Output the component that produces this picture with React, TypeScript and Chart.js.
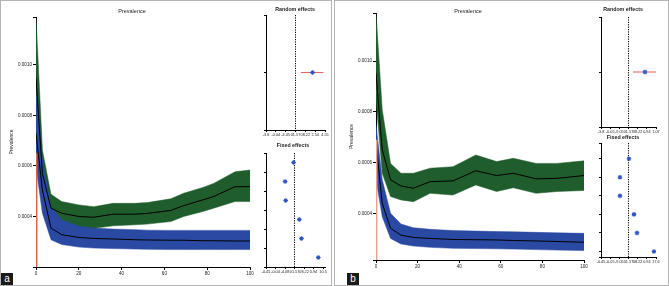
import React, { useEffect, useRef } from 'react';
import { Chart, registerables } from 'chart.js';

Chart.register(...registerables);

const FONT = '"Liberation Sans", Arial, sans-serif';
const GREEN = '#1f5d2c';
const BLUE = '#2a49a3';
const DOT = '#2f55c8';

// ---------------- Panel a : prevalence bands ----------------
const xA = [0, 3, 7, 12, 20, 27, 36, 46, 52, 63, 69, 78, 83, 93, 100];
const greenUpperA = [0.00119, 0.000662, 0.000488, 0.000459, 0.000446, 0.000439, 0.000452, 0.000452, 0.000455, 0.00047, 0.000492, 0.000515, 0.000531, 0.000577, 0.000584];
const greenMeanA = [0.00095, 0.00057, 0.000433, 0.000413, 0.0004, 0.000397, 0.000409, 0.000409, 0.000412, 0.000424, 0.000443, 0.000466, 0.000479, 0.000518, 0.000518];
const greenLowerA = [0.0008, 0.00052, 0.0004, 0.000361, 0.00035, 0.000353, 0.000363, 0.000367, 0.00037, 0.00038, 0.0004, 0.00042, 0.000433, 0.000459, 0.000459];
const blueUpperA = [0.00091, 0.000623, 0.000439, 0.000387, 0.000361, 0.000354, 0.00035, 0.000348, 0.000346, 0.000345, 0.000345, 0.000345, 0.000345, 0.000345, 0.000345];
const blueMeanA = [0.00073, 0.000505, 0.000354, 0.000328, 0.000317, 0.000313, 0.000311, 0.000308, 0.000307, 0.000306, 0.000306, 0.000304, 0.000304, 0.000303, 0.000303];
const blueLowerA = [0.000597, 0.000413, 0.000308, 0.000289, 0.000279, 0.000275, 0.000273, 0.000271, 0.00027, 0.000269, 0.000269, 0.000269, 0.000269, 0.000269, 0.000269];
const redXA = [0.3, 0.3];
const redYA = [0.00065, 0.0002];

// ---------------- Panel b : prevalence bands ----------------
const xB = [0, 3, 7, 12, 18, 26, 37, 48, 58, 66, 77, 87, 100];
const greenUpperB = [0.00119, 0.000808, 0.000597, 0.000558, 0.000558, 0.000578, 0.000584, 0.00063, 0.000604, 0.000617, 0.000597, 0.000597, 0.000607];
const greenMeanB = [0.000953, 0.00065, 0.000532, 0.000508, 0.000499, 0.000525, 0.000528, 0.000568, 0.000549, 0.000558, 0.000536, 0.000538, 0.000549];
const greenLowerB = [0.00085, 0.000558, 0.000466, 0.000453, 0.000446, 0.000479, 0.000472, 0.000512, 0.000486, 0.000501, 0.000479, 0.000486, 0.00049];
const blueUpperB = [0.00075, 0.000532, 0.0004, 0.000358, 0.000343, 0.000337, 0.000332, 0.00033, 0.000328, 0.000327, 0.000325, 0.000323, 0.000321];
const blueMeanB = [0.000676, 0.000439, 0.000341, 0.000314, 0.000305, 0.000301, 0.000297, 0.000296, 0.000295, 0.000293, 0.000291, 0.000289, 0.000286];
const blueLowerB = [0.000532, 0.000387, 0.000301, 0.000279, 0.000271, 0.000266, 0.000262, 0.000261, 0.00026, 0.000259, 0.000257, 0.000255, 0.000253];
const redXB = [0.3, 0.3];
const redYB = [0.00069, 0.000216];

// ---------------- Forest plots ----------------
const forestTicks = [-3, -2, -1, 0, 1, 2, 3];
const randomTickLabelsA = ['-3.8', '-0.04', '-4.45', '01.57', '08.22', '2.54', '4.55'];
const fixedTickLabelsA = ['-0.45', '-0.04', '-4.08', '01.57', '08.22', '0.94', '10.5'];
const randomTickLabelsB = ['-3.8', '-0.05', '-9.05', '01.57', '08.22', '0.94', '1.07'];
const fixedTickLabelsB = ['-0.45', '-0.05', '-9.05', '01.57', '08.22', '0.94', '17.6'];

const randomEstA = [1.73];
const randomLowA = [0.56];
const randomHighA = [2.85];
const fixedRows = [1, 2, 3, 4, 5, 6];
const fixedEstA = [-0.1, -0.99, -0.93, 0.5, 0.73, 2.5];

const randomEstB = [1.8];
const randomLowB = [0.49];
const randomHighB = [3.0];
const fixedEstB = [0.05, -0.93, -0.93, 0.6, 0.93, 2.78];

const pts = (xs: number[], ys: number[]) => xs.map((x, i) => ({ x, y: ys[i] }));

// Draws a chart heading at a fixed position inside the canvas
const headingPlugin = {
  id: 'heading',
  afterDraw(chart: any, _args: any, opts: any) {
    if (!opts || !opts.text) return;
    const ctx = chart.ctx;
    ctx.save();
    ctx.font = `${opts.bold ? 'bold ' : ''}${opts.size}px ${FONT}`;
    ctx.fillStyle = '#222';
    ctx.textAlign = 'center';
    ctx.textBaseline = 'middle';
    ctx.fillText(opts.text, opts.x, opts.y);
    ctx.restore();
  },
};

function mainConfig(o: any) {
  const band = (data: any, color: string, fill: any, order: number) => ({
    data,
    borderColor: color,
    borderWidth: 0.5,
    backgroundColor: color,
    pointRadius: 0,
    fill,
    tension: 0,
    order,
  });
  return {
    type: 'line',
    plugins: [headingPlugin],
    data: {
      datasets: [
        band(pts(o.xs, o.gU), GREEN, 1, 6),
        band(pts(o.xs, o.gL), GREEN, false, 6),
        { data: pts(o.xs, o.gM), borderColor: '#000', borderWidth: 1, pointRadius: 0, fill: false, order: 2 },
        band(pts(o.xs, o.bU), BLUE, 4, 4),
        band(pts(o.xs, o.bL), BLUE, false, 4),
        { data: pts(o.xs, o.bM), borderColor: '#000', borderWidth: 1, pointRadius: 0, fill: false, order: 1 },
        { data: pts(o.rx, o.ry), borderColor: o.redColor, borderWidth: 1.6, pointRadius: 0, fill: false, order: 0 },
      ],
    },
    options: {
      animation: false,
      responsive: false,
      devicePixelRatio: 1,
      events: [],
      layout: { padding: { left: 0, right: o.padRight, top: o.padTop, bottom: 0 } },
      plugins: {
        legend: { display: false },
        tooltip: { enabled: false },
        title: { display: false },
        heading: { text: 'Prevalence', x: o.titleX, y: o.titleY, size: 5.5, bold: false },
      },
      scales: {
        x: {
          type: 'linear',
          min: 0,
          max: 100,
          ticks: { stepSize: 20, color: '#222', font: { family: FONT, size: 4.6 }, padding: 1, maxRotation: 0 },
          grid: { drawOnChartArea: false, drawTicks: true, tickLength: 3, color: '#000' },
          border: { color: '#000', width: 1 },
          afterFit: (s: any) => { s.height = o.xAxisH; },
        },
        y: {
          type: 'linear',
          min: o.yMin,
          max: o.yMax,
          ticks: {
            stepSize: 0.0002,
            color: '#222',
            font: { family: FONT, size: 4.6 },
            padding: 1,
            callback: (v: number) => (v > 0.00035 && v < 0.00105 ? v.toFixed(4) : ''),
          },
          grid: { drawOnChartArea: false, drawTicks: true, tickLength: 3, color: '#000' },
          border: { color: '#000', width: 1 },
          title: {
            display: true,
            text: 'Prevalence',
            color: '#222',
            font: { family: FONT, size: 5 },
            padding: { top: o.yTitlePad, bottom: 0 },
          },
          afterFit: (s: any) => { s.width = o.yAxisW; },
        },
      },
    },
  };
}

function forestConfig(o: any) {
  const datasets: any[] = [
    {
      type: 'scatter',
      data: pts(o.est, o.rows),
      pointStyle: 'star',
      pointRadius: 2.3,
      borderColor: DOT,
      backgroundColor: DOT,
      borderWidth: 1.1,
      order: 0,
    },
    {
      type: 'line',
      data: [{ x: 0, y: o.yMin }, { x: 0, y: o.yMax }],
      borderColor: '#000',
      borderWidth: 1,
      borderDash: [1.2, 1.2],
      pointRadius: 0,
      fill: false,
      order: 2,
    },
  ];
  if (o.lo) {
    datasets.push({
      type: 'line',
      data: [{ x: o.lo[0], y: o.rows[0] }, { x: o.hi[0], y: o.rows[0] }],
      borderColor: '#e46a6a',
      borderWidth: 1.1,
      pointRadius: 0,
      fill: false,
      order: 1,
    });
  }
  return {
    type: 'scatter',
    plugins: [headingPlugin],
    data: { datasets },
    options: {
      animation: false,
      responsive: false,
      devicePixelRatio: 1,
      events: [],
      layout: { padding: { left: 0, right: o.padRight, top: o.padTop, bottom: 0 } },
      plugins: {
        legend: { display: false },
        tooltip: { enabled: false },
        title: { display: false },
        heading: { text: o.title, x: o.titleX, y: o.titleY, size: 5.3, bold: true },
      },
      scales: {
        x: {
          type: 'linear',
          min: o.xMin,
          max: o.xMax,
          afterBuildTicks: (s: any) => { s.ticks = forestTicks.map((v) => ({ value: v })); },
          ticks: {
            autoSkip: false,
            maxRotation: 0,
            color: '#222',
            font: { family: FONT, size: 3.8 },
            padding: 1,
            callback: (v: number) => {
              const i = forestTicks.indexOf(Math.round(v));
              return i >= 0 ? o.tickLabels[i] : '';
            },
          },
          grid: { drawOnChartArea: false, drawTicks: true, tickLength: 2, color: '#000' },
          border: { color: '#000', width: 1 },
          afterFit: (s: any) => { s.height = o.xAxisH; },
        },
        y: {
          type: 'linear',
          min: o.yMin,
          max: o.yMax,
          reverse: true,
          ticks: { stepSize: 1, callback: () => '', font: { size: 4 }, padding: 0 },
          grid: { drawOnChartArea: false, drawTicks: true, tickLength: 2, color: '#000' },
          border: { color: '#000', width: 1 },
          afterFit: (s: any) => { s.width = o.yAxisW; },
        },
      },
    },
  };
}

function ChartBox({ left, top, width, height, config }: any) {
  const ref = useRef<HTMLCanvasElement>(null);
  useEffect(() => {
    const chart = new Chart(ref.current as HTMLCanvasElement, config() as any);
    return () => chart.destroy();
  }, []);
  return (
    <canvas
      ref={ref}
      width={width}
      height={height}
      style={{ position: 'absolute', left, top, width, height }}
    />
  );
}

const labelBox = (left: number, text: string) => (
  <div
    style={{
      position: 'absolute',
      left,
      top: 273,
      width: 12,
      height: 12,
      background: '#1a1a1a',
      color: '#fff',
      fontFamily: FONT,
      fontSize: 10,
      lineHeight: '11px',
      textAlign: 'center',
    }}
  >
    {text}
  </div>
);

export default function App() {
  return (
    <div style={{ position: 'absolute', left: 0, top: 0, width: 669, height: 286, background: '#fff', overflow: 'hidden' }}>
      <div style={{ position: 'absolute', left: 0, top: 0, width: 332, height: 286, border: '1px solid #b4b4b4', boxSizing: 'border-box' }} />
      <div style={{ position: 'absolute', left: 334, top: 0, width: 335, height: 286, border: '1px solid #b4b4b4', boxSizing: 'border-box' }} />

      <ChartBox
        left={0}
        top={0}
        width={262}
        height={286}
        config={() =>
          mainConfig({
            xs: xA, gU: greenUpperA, gM: greenMeanA, gL: greenLowerA,
            bU: blueUpperA, bM: blueMeanA, bL: blueLowerA,
            rx: redXA, ry: redYA, redColor: '#d8634e',
            yMin: 0.0002, yMax: 0.00119, yAxisW: 36, xAxisH: 19, padRight: 12, padTop: 17,
            titleX: 132, titleY: 11, yTitlePad: 8.5,
          })
        }
      />
      <ChartBox
        left={256}
        top={0}
        width={75}
        height={140}
        config={() =>
          forestConfig({
            title: 'Random effects', est: randomEstA, rows: [1], lo: randomLowA, hi: randomHighA,
            xMin: -3, xMax: 3, yMin: 0, yMax: 2, tickLabels: randomTickLabelsA,
            yAxisW: 10, xAxisH: 10, padRight: 6, padTop: 15, titleX: 39, titleY: 10,
          })
        }
      />
      <ChartBox
        left={256}
        top={138}
        width={75}
        height={141}
        config={() =>
          forestConfig({
            title: 'Fixed effects', est: fixedEstA, rows: fixedRows,
            xMin: -3, xMax: 3.3, yMin: 0.5, yMax: 6.5, tickLabels: fixedTickLabelsA,
            yAxisW: 10, xAxisH: 12, padRight: 2, padTop: 15, titleX: 37, titleY: 7.5,
          })
        }
      />

      <ChartBox
        left={336}
        top={0}
        width={260}
        height={286}
        config={() =>
          mainConfig({
            xs: xB, gU: greenUpperB, gM: greenMeanB, gL: greenLowerB,
            bU: blueUpperB, bM: blueMeanB, bL: blueLowerB,
            rx: redXB, ry: redYB, redColor: '#e8a090',
            yMin: 0.000216, yMax: 0.00119, yAxisW: 40, xAxisH: 26, padRight: 12, padTop: 13,
            titleX: 132, titleY: 11, yTitlePad: 13,
          })
        }
      />
      <ChartBox
        left={591}
        top={0}
        width={76}
        height={137}
        config={() =>
          forestConfig({
            title: 'Random effects', est: randomEstB, rows: [1], lo: randomLowB, hi: randomHighB,
            xMin: -3, xMax: 3, yMin: 0, yMax: 2, tickLabels: randomTickLabelsB,
            yAxisW: 10, xAxisH: 10, padRight: 11, padTop: 17, titleX: 32, titleY: 10,
          })
        }
      />
      <ChartBox
        left={591}
        top={128}
        width={76}
        height={141}
        config={() =>
          forestConfig({
            title: 'Fixed effects', est: fixedEstB, rows: fixedRows,
            xMin: -3, xMax: 3, yMin: 0.15, yMax: 6.3, tickLabels: fixedTickLabelsB,
            yAxisW: 10, xAxisH: 12, padRight: 11, padTop: 15, titleX: 32, titleY: 9.5,
          })
        }
      />

      {labelBox(1, 'a')}
      {labelBox(347, 'b')}
    </div>
  );
}
